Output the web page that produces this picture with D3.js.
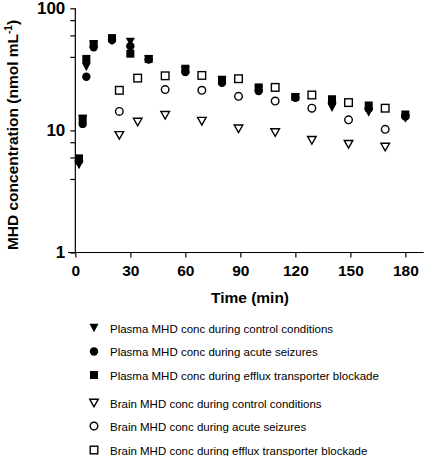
<!DOCTYPE html>
<html>
<head>
<meta charset="utf-8">
<script src="https://cdn.jsdelivr.net/npm/d3@7/dist/d3.min.js"></script>
<style>
  html, body { margin: 0; padding: 0; background: #fff; }
  svg { display: block; font-family: "Liberation Sans", Arial, Helvetica, sans-serif; }
</style>
</head>
<body>
<svg id="chart" width="444" height="456"></svg>
<script>
// ---- data ----
const plasmaTime = [2, 4, 6, 10, 20, 30, 40, 60, 80, 100, 120, 140, 160, 180];
const plasmaControl = [5.2, 12.3, 33, 50, 54, 53, 38, 31, 25.5, 21.5, 18.5, 15.3, 14.0, 12.5];
const plasmaSeizure = [5.6, 11.3, 27.5, 48, 55, 49, 38, 30, 24.5, 21, 18.5, 17.0, 15.0, 13.0];
const plasmaBlockade = [5.9, 12.5, 38.5, 51, 57, 42.5, 38.5, 32, 26, 22.5, 18.8, 18.0, 16.0, 13.5];

const brainTime = [24, 34, 49, 69, 89, 109, 129, 149, 169];
const brainControl = [9.1, 11.7, 13.3, 11.9, 10.3, 9.6, 8.3, 7.7, 7.3];
const brainSeizure = [14.3, null, 21.6, 21.3, 19.0, 17.4, 15.2, 12.2, 10.2];
const brainBlockade = [21.3, 26.8, 28.0, 28.2, 26.5, 22.5, 19.5, 16.9, 15.2];

const xTicks = [0, 30, 60, 90, 120, 150, 180];
const yTicks = [1, 4, 6, 8, 10, 40, 60, 80, 100];
const yLabelled = [1, 10, 100];

const legendLabels = [
  "Plasma MHD conc during control conditions",
  "Plasma MHD conc during acute seizures",
  "Plasma MHD conc during efflux transporter blockade",
  "Brain MHD conc during control conditions",
  "Brain MHD conc during acute seizures",
  "Brain MHD conc during efflux transporter blockade"
];

// ---- series table ----
const series = [
  { time: plasmaTime, values: plasmaBlockade, shape: "square", filled: true },
  { time: plasmaTime, values: plasmaSeizure, shape: "circle", filled: true },
  { time: plasmaTime, values: plasmaControl, shape: "triangle", filled: true },
  { time: brainTime, values: brainControl, shape: "triangle", filled: false },
  { time: brainTime, values: brainSeizure, shape: "circle", filled: false },
  { time: brainTime, values: brainBlockade, shape: "square", filled: false }
];
const legendShapes = [
  { shape: "triangle", filled: true }, { shape: "circle", filled: true }, { shape: "square", filled: true },
  { shape: "triangle", filled: false }, { shape: "circle", filled: false }, { shape: "square", filled: false }
];

const svg = d3.select("#chart");

const x = d3.scaleLinear().domain([-4, 190]).range([68, 423.7]);
const y = d3.scaleLog().domain([1, 100]).range([252.5, 8.3]);

const x0 = x(0);

function marker(g, shape, filled, cx, cy) {
  const fill = filled ? "#000" : "#fff";
  const sw = filled ? 0 : 1.4;
  if (shape === "square") {
    const s = filled ? 8 : 7.6;
    g.append("rect").attr("x", cx - s / 2).attr("y", cy - s / 2)
      .attr("width", s).attr("height", s)
      .attr("fill", fill).attr("stroke", "#000").attr("stroke-width", sw);
  } else if (shape === "circle") {
    const r = filled ? 4.2 : 3.8;
    g.append("circle").attr("cx", cx).attr("cy", cy).attr("r", r)
      .attr("fill", fill).attr("stroke", "#000").attr("stroke-width", sw);
  } else {
    const h = filled ? 8.5 : 7.6, w = filled ? 9 : 8.6;
    const pts = [[cx - w / 2, cy - h / 2], [cx + w / 2, cy - h / 2], [cx, cy + h / 2]];
    g.append("path").attr("d", "M" + pts.map(p => p.join(",")).join("L") + "Z")
      .attr("fill", fill).attr("stroke", "#000").attr("stroke-width", sw)
      .attr("stroke-linejoin", "miter");
  }
}

// axes
const yAxis = d3.axisLeft(y).tickValues(yTicks).tickSize(5).tickPadding(5)
  .tickFormat(d => yLabelled.includes(d) ? d3.format("d")(d) : "");
const gy = svg.append("g").attr("transform", `translate(${x0},0)`).call(yAxis);
gy.select(".domain").attr("d", `M0,${y(100)}V${y(1)}`).attr("stroke-width", 1.2);
gy.selectAll(".tick line").attr("stroke-width", 1.2);
gy.selectAll(".tick text").attr("font-size", 17).attr("font-weight", "bold")
  .attr("font-family", "Liberation Sans, Arial, sans-serif").attr("fill", "#000");

const xAxis = d3.axisBottom(x).tickValues(xTicks).tickSize(5).tickPadding(7)
  .tickFormat(d3.format("d"));
const gx = svg.append("g").attr("transform", `translate(0,${y(1)})`).call(xAxis);
gx.select(".domain").attr("d", `M${x(-4)},0H${x(190)}`).attr("stroke-width", 1.2);
gx.selectAll(".tick line").attr("stroke-width", 1.2);
gx.selectAll(".tick text").attr("font-size", 15.5).attr("font-weight", "bold")
  .attr("font-family", "Liberation Sans, Arial, sans-serif").attr("fill", "#000");

// axis titles
svg.append("text").attr("x", 250).attr("y", 303).attr("text-anchor", "middle")
  .attr("font-size", 15.5).attr("font-weight", "bold").text("Time (min)");

const yt = svg.append("text").attr("transform", `translate(18,135) rotate(-90)`)
  .attr("text-anchor", "middle").attr("font-size", 15.5).attr("font-weight", "bold");
yt.append("tspan").text("MHD concentration (nmol mL");
yt.append("tspan").attr("dy", -6).attr("font-size", 10).text("-1");
yt.append("tspan").attr("dy", 6).text(")");

// points
const gp = svg.append("g");
series.forEach(s => {
  s.values.forEach((v, i) => {
    if (v == null) return;
    marker(gp, s.shape, s.filled, x(s.time[i]), y(v));
  });
});

// legend
const legendY = [329, 352.5, 376, 404, 427, 451];
const gl = svg.append("g");
legendLabels.forEach((lab, i) => {
  marker(gl, legendShapes[i].shape, legendShapes[i].filled, 94, legendY[i] - 1);
  gl.append("text").attr("x", 110).attr("y", legendY[i] + 3.5)
    .attr("font-size", 11.5).attr("fill", "#000").text(lab);
});
</script>
</body>
</html>
